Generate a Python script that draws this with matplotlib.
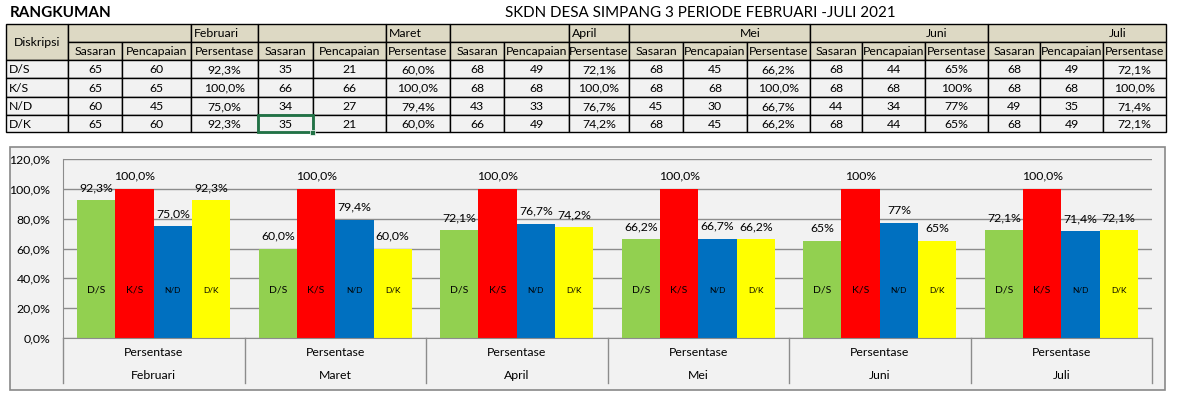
import matplotlib
matplotlib.use("Agg")
import matplotlib.pyplot as plt
from matplotlib.patches import Rectangle
import numpy as np

plt.rcParams['font.family'] = ['Lato', 'DejaVu Sans']

# data
bulan = ["Februari", "Maret", "April", "Mei", "Juni", "Juli"]
kategori = ["D/S", "K/S", "N/D", "D/K"]
sasaran = [[65, 65, 60, 65],
           [35, 66, 34, 35],
           [68, 68, 43, 66],
           [68, 68, 45, 68],
           [68, 68, 44, 68],
           [68, 68, 49, 68]]
pencapaian = [[60, 65, 45, 60],
              [21, 66, 27, 21],
              [49, 68, 33, 49],
              [45, 68, 30, 45],
              [44, 68, 34, 44],
              [49, 68, 35, 49]]
persen = [[92.3, 100.0, 75.0, 92.3],
          [60.0, 100.0, 79.4, 60.0],
          [72.1, 100.0, 76.7, 74.2],
          [66.2, 100.0, 66.7, 66.2],
          [64.7, 100.0, 77.3, 64.7],
          [72.1, 100.0, 71.4, 72.1]]
desimal = [1, 1, 1, 1, 0, 1]
warna = ["#92D050", "#FF0000", "#0070C0", "#FFFF00"]


def fmt(v, d):
    return (f"{v:.{d}f}%").replace('.', ',')


fig = plt.figure(figsize=(11.83, 4.03), dpi=100)
fig.patch.set_facecolor("white")

# background axes in pixel coords (table + chart frame)
bg = fig.add_axes([0, 0, 1, 1], zorder=0)
bg.set_xlim(0, 1183)
bg.set_ylim(403, 0)
bg.axis('off')

bg.text(10, 13, "RANGKUMAN", fontsize=11, fontweight='bold', va='center', ha='left')
bg.text(700, 13, "SKDN DESA SIMPANG 3 PERIODE FEBRUARI -JULI 2021", fontsize=10.9,
        va='center', ha='center')

col_x = [6, 68, 122, 191, 258, 313, 386, 450, 504, 569, 629, 683, 747, 810,
         862, 925, 988, 1040, 1103, 1166]
row_y = [24, 42, 60, 78, 97, 115, 132]
tan = "#DDD9C4"
abu = "#F2F2F2"


def cell(x0, y0, x1, y1, fc, txt="", ha='center', tx=None, **kw):
    bg.add_patch(Rectangle((x0, y0), x1 - x0, y1 - y0, facecolor=fc,
                           edgecolor='black', linewidth=1.0))
    if txt:
        if tx is None:
            tx = (x0 + x1) / 2 if ha == 'center' else x0 + 3
        bg.text(tx, (y0 + y1) / 2 + 0.5, txt, fontsize=8.8, ha=ha, va='center', **kw)


cell(col_x[0], row_y[0], col_x[1], row_y[2], tan, "Diskripsi")
label_x = [None, None, None, 750, 937, 1118]
for m, b in enumerate(bulan):
    c0 = 1 + 3 * m
    if label_x[m] is None:
        cell(col_x[c0], row_y[0], col_x[c0 + 2], row_y[1], tan)
        cell(col_x[c0 + 2], row_y[0], col_x[c0 + 3], row_y[1], tan, b, ha='left')
    else:
        cell(col_x[c0], row_y[0], col_x[c0 + 3], row_y[1], tan, b, tx=label_x[m])
    for j, h in enumerate(["Sasaran", "Pencapaian", "Persentase"]):
        cell(col_x[c0 + j], row_y[1], col_x[c0 + j + 1], row_y[2], tan, h)

for r, k in enumerate(kategori):
    y0, y1 = row_y[2 + r], row_y[3 + r]
    cell(col_x[0], y0, col_x[1], y1, abu, k, ha='left')
    for m in range(len(bulan)):
        c0 = 1 + 3 * m
        cell(col_x[c0], y0, col_x[c0 + 1], y1, abu, str(sasaran[m][r]))
        cell(col_x[c0 + 1], y0, col_x[c0 + 2], y1, abu, str(pencapaian[m][r]))
        cell(col_x[c0 + 2], y0, col_x[c0 + 3], y1, abu, fmt(persen[m][r], desimal[m]))

# selected cell (Maret, D/K, Sasaran)
bg.add_patch(Rectangle((col_x[4], row_y[5]), col_x[5] - col_x[4], row_y[6] - row_y[5],
                       facecolor='none', edgecolor='#217346', linewidth=2.0))
bg.add_patch(Rectangle((col_x[5] - 2.5, row_y[6] - 2.5), 5, 5, facecolor='#217346',
                       edgecolor='white', linewidth=0.5))

# chart frame
bg.add_patch(Rectangle((10, 147), 1155, 243, facecolor=abu, edgecolor='#898989',
                       linewidth=1.2))

# chart
ax = fig.add_axes([63 / 1183, 1 - 338 / 403, (1152 - 63) / 1183, (338 - 159) / 403],
                  zorder=1)
ax.set_facecolor('none')
n = len(bulan)
lebar = 0.211
offs = (np.arange(4) - 1.5) * lebar
x = np.arange(n) + 0.5
for i, k in enumerate(kategori):
    vals = [persen[m][i] / 100 for m in range(n)]
    ax.bar(x + offs[i], vals, width=lebar, color=warna[i], zorder=2)
    for m in range(n):
        ax.annotate(fmt(persen[m][i], desimal[m]), (x[m] + offs[i], vals[m]),
                    xytext=(0, 9), textcoords='offset points', ha='center',
                    va='center', fontsize=8.8)
        ax.text(x[m] + offs[i], 0.32, k, ha='center', va='center',
                fontsize=7.5 if i < 2 else 6)

ax.set_xlim(0, n)
ax.set_ylim(0, 1.2)
ax.set_yticks(np.arange(0, 1.21, 0.2))
ax.set_yticklabels([fmt(v * 100, 1) for v in np.arange(0, 1.21, 0.2)], fontsize=8.8)
ax.yaxis.grid(True, color='#8C8C8C', linewidth=1.0, zorder=0)
ax.set_axisbelow(True)
ax.tick_params(axis='y', length=0, pad=9)
ax.tick_params(axis='x', length=0, labelbottom=False)
for s in ['top', 'right']:
    ax.spines[s].set_visible(False)
ax.spines['left'].set_color('#8C8C8C')
ax.spines['bottom'].set_color('#8C8C8C')

for i in range(n + 1):
    ax.plot([i, i], [0, -0.3], color='#8C8C8C', linewidth=1.0, clip_on=False)
for m, b in enumerate(bulan):
    ax.text(x[m], -0.1, "Persentase", ha='center', va='center', fontsize=8.8)
    ax.text(x[m], -0.253, b, ha='center', va='center', fontsize=8.8)

fig.savefig("out.png", dpi=100)
